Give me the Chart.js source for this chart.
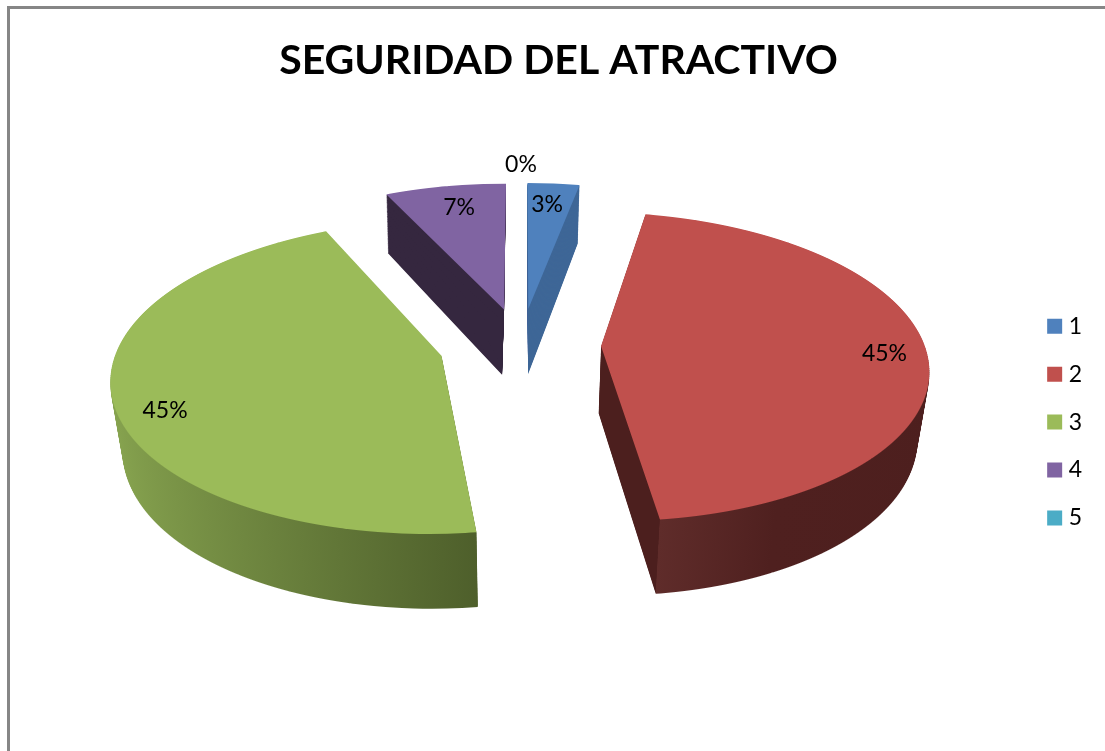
<!DOCTYPE html>
<html>
<head>
<meta charset="utf-8">
<style>html,body{margin:0;padding:0;background:#fff}canvas{display:block}</style>
<script src="https://cdn.jsdelivr.net/npm/chart.js@4"></script>
</head>
<body>
<canvas id="c" width="1105" height="751"></canvas>
<script>
const categories = ['1', '2', '3', '4', '5'];
const values = [3, 45, 45, 7, 0];
const valueLabels = ['3%', '45%', '45%', '7%', '0%'];
const chartTitle = 'SEGURIDAD DEL ATRACTIVO';
const topColors = ['#4f81bd', '#c0504d', '#9bbb59', '#8064a2', '#4bacc6'];
const wallColors = ['#3f6797', '#4c1f1e', '#88a550', '#35273f', '#3a8a9f'];
const labelRadius = [0.825, 0.87, 0.865, 0.815, 1.175];
const labelTurnDeg = [-0.6, 1, -6.5, 1, 0];
const explodeBy = [80, 80, 82, 80, 80];
const wallLean = [0, 0, 0, -2.5, 0];

const FONT = 'Lato, Carlito, sans-serif';
const RADIUS = 323.5;
const SCREEN_CX = 521, SCREEN_CY = 345;
const PROJ_A = 0.468, PROJ_B = 0.00041;
const DEPTH_0 = 67, DEPTH_SLOPE = 0.0225, DEPTH_SHRINK = 0.03;

function rowY(v, h) { return SCREEN_CY + PROJ_A * v / (1 - PROJ_B * v) + h * (DEPTH_0 + DEPTH_SLOPE * v); }
function rowSlope(v, h) { const d = 1 - PROJ_B * v; return PROJ_A / (d * d) + h * DEPTH_SLOPE; }
function rowScale(v, h) { return (1 / (1 - PROJ_B * v)) * (1 - DEPTH_SHRINK * h); }
function invert(Y, h) {
  let lo = -520, hi = 520;
  for (let i = 0; i < 26; i++) {
    const m = (lo + hi) / 2;
    if (rowY(m, h) < Y) lo = m; else hi = m;
  }
  return (lo + hi) / 2;
}
function arcRange(arc, explode) {
  const s = arc.startAngle, e = arc.endAngle;
  const mid = (s + e) / 2;
  const base = Math.sin(mid) * explode;
  let pts = [0, Math.sin(s) * RADIUS, Math.sin(e) * RADIUS];
  for (let k = -3; k <= 5; k++) {
    const a = Math.PI / 2 + k * Math.PI;
    if (a > s && a < e) pts.push(Math.sin(a) * RADIUS);
  }
  return [base + Math.min(...pts), base + Math.max(...pts)];
}
function drawLayer(ctx, arc, i, fill, h, band) {
  const explode = explodeBy[i];
  const mid = (arc.startAngle + arc.endAngle) / 2;
  const dx = Math.cos(mid) * explode, dy = Math.sin(mid) * explode;
  const [vMin, vMax] = arcRange(arc, explode);
  const y0 = Math.floor(rowY(vMin, h)) - 1, y1 = Math.ceil(rowY(vMax, h)) + 1;
  const saved = arc.options;
  const opts = Object.create(saved);
  opts.backgroundColor = fill;
  opts.borderWidth = 0;
  opts.offset = 0;
  arc.options = opts;
  for (let Y = y0; Y < y1; Y += band) {
    const v = invert(Y + band / 2, h);
    const sx = rowScale(v, h), sy = rowSlope(v, h);
    ctx.save();
    ctx.setTransform(1, 0, 0, 1, 0, 0);
    ctx.beginPath();
    ctx.rect(0, Y, 1105, band);
    ctx.clip();
    ctx.setTransform(sx, 0, 0, sy,
      SCREEN_CX + wallLean[i] * h - sx * arc.x,
      Y + band / 2 - sy * (arc.y + v));
    ctx.translate(dx, dy);
    arc.draw(ctx);
    ctx.restore();
  }
  arc.options = saved;
}
const pie3d = {
  id: 'pie3d',
  beforeDraw(chart) {
    const ctx = chart.ctx;
    ctx.save();
    ctx.fillStyle = '#fff';
    ctx.fillRect(0, 0, 1105, 751);
    ctx.fillStyle = '#868686';
    ctx.fillRect(7, 6, 1098, 3);
    ctx.fillRect(7, 6, 3, 745);
    ctx.restore();
  },
  beforeDatasetsDraw(chart) {
    const ctx = chart.ctx;
    const arcs = chart.getDatasetMeta(0).data;
    const walls = arcs.map((arc, i) => {
      const x = arc.x;
      if (i === 1) {
        const g = ctx.createLinearGradient(x, 0, x + RADIUS, 0);
        g.addColorStop(0, wallColors[1]);
        g.addColorStop(0.125, wallColors[1]);
        g.addColorStop(0.126, '#5f2c2a');
        g.addColorStop(0.45, '#4f201f');
        g.addColorStop(1, '#4d1f1e');
        return g;
      }
      if (i === 2) {
        const g = ctx.createLinearGradient(x - RADIUS, 0, x + 41, 0);
        g.addColorStop(0, wallColors[2]);
        g.addColorStop(1, '#4e5f2b');
        return g;
      }
      return wallColors[i];
    });
    const layers = 70;
    arcs.forEach((arc, i) => {
      if (values[i] === 0) return;
      for (let k = layers; k >= 1; k--) {
        drawLayer(ctx, arc, i, walls[i], k / layers, k === layers ? 1 : 2);
      }
      drawLayer(ctx, arc, i, topColors[i], 0, 1);
    });
    ctx.save();
    ctx.fillStyle = '#000';
    ctx.font = '23px ' + FONT;
    ctx.textAlign = 'center';
    ctx.textBaseline = 'middle';
    arcs.forEach((arc, i) => {
      const explode = explodeBy[i];
      const mid = (arc.startAngle + arc.endAngle) / 2;
      const turned = mid + labelTurnDeg[i] * Math.PI / 180;
      const r = labelRadius[i] * RADIUS;
      const wx = Math.cos(mid) * explode + Math.cos(turned) * r;
      const wv = Math.sin(mid) * explode + Math.sin(turned) * r;
      ctx.fillText(valueLabels[i], SCREEN_CX + wx * rowScale(wv, 0), rowY(wv, 0) + 1);
    });
    ctx.restore();
    return false;
  }
};
new Chart(document.getElementById('c'), {
  type: 'pie',
  plugins: [pie3d],
  data: {
    labels: categories,
    datasets: [{ data: values, backgroundColor: topColors, borderWidth: 0 }]
  },
  options: {
    responsive: false,
    animation: false,
    radius: RADIUS,
    layout: { padding: { left: 25, top: 36, bottom: 0, right: 13 } },
    plugins: {
      tooltip: { enabled: false },
      title: {
        display: true,
        text: chartTitle,
        color: '#000',
        font: { family: FONT, size: 41, weight: 'bold' },
        padding: { top: 0, bottom: 8 }
      },
      legend: {
        position: 'right',
        fullSize: false,
        labels: {
          usePointStyle: true,
          pointStyle: 'rect',
          boxWidth: 5,
          boxHeight: 15,
          padding: 24.9,
          color: '#000',
          font: { family: FONT, size: 23 }
        }
      }
    }
  }
});
</script>
</body>
</html>
